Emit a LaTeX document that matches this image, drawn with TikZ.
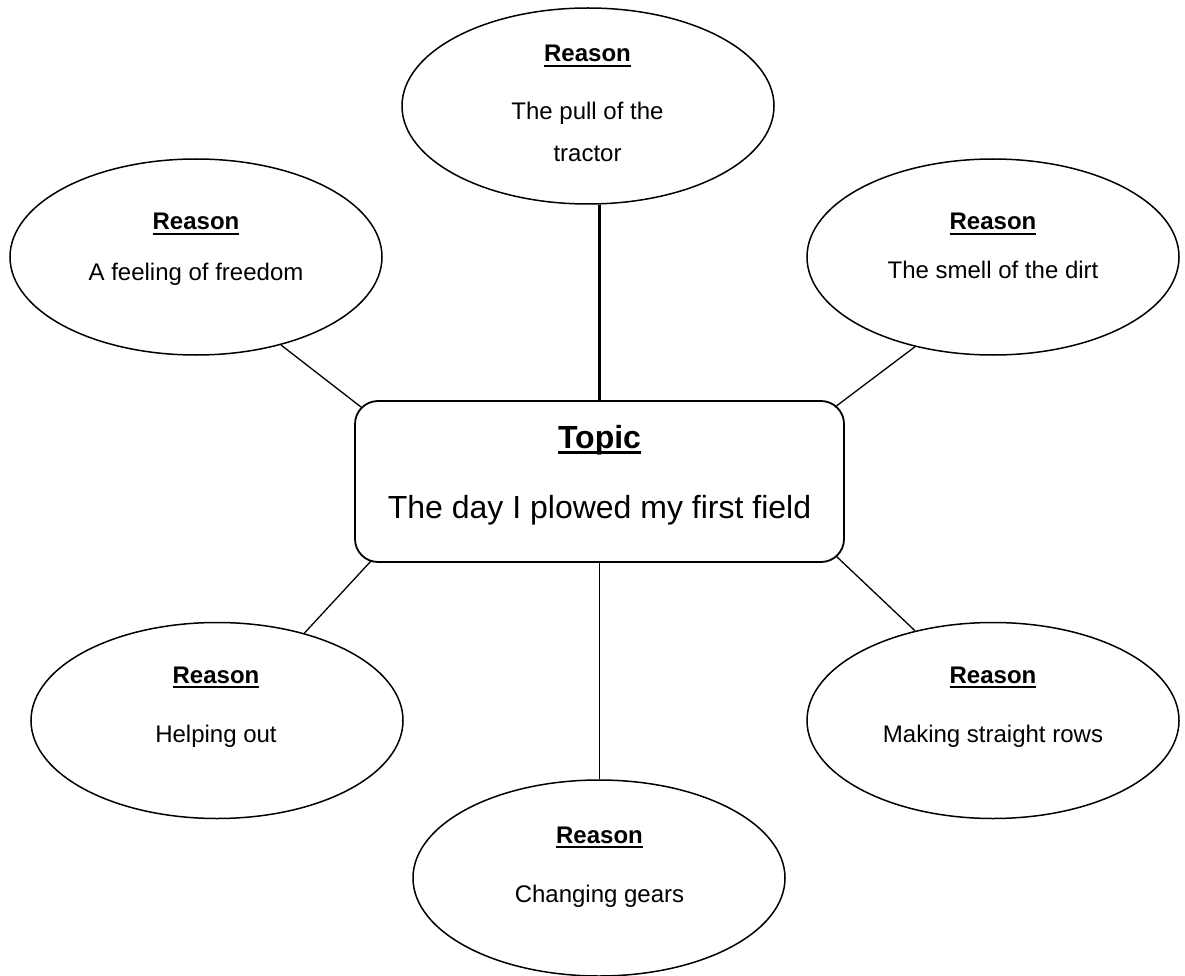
\documentclass[tikz,border=0pt]{standalone}
\usepackage{fontspec}
\setmainfont{Liberation Sans}
\usetikzlibrary{shapes.geometric,calc}
\newcommand\ulw[3]{\setbox0\hbox{#1}\rlap{\rule[-#2]{\wd0}{#3}}\box0}
\tikzset{
  reason/.style={ellipse, draw, line width=1.5pt, inner sep=0pt, minimum width=372pt, minimum height=196pt},
  small/.style={anchor=base, inner sep=0pt, font=\fontsize{24}{28}\selectfont},
  big/.style={anchor=base, inner sep=0pt, font=\fontsize{32}{38}\selectfont},
  conn/.style={line width=1.3pt},
  topic/.style={draw, rounded corners=23pt, line width=1.8pt, minimum width=489pt, minimum height=161pt, inner sep=0pt}
}
\begin{document}
\begin{tikzpicture}[x=1pt,y=-1pt]
\useasboundingbox (0,0) rectangle (1185,976);
% central box
\node[topic] (box) at (599.5,481.5) {};
\node[big] (boxh) at (599.5,448) {\bfseries\ulw{Topic}{6pt}{3.5pt}};
\node[big] (boxt) at (599.5,518) {The day I plowed my first field};
% ellipses
\node[reason] (T) at (588,106) {};
\node[reason] (L) at (196,257) {};
\node[reason] (R) at (993,257) {};
\node[reason] (BL) at (217,720.5) {};
\node[reason] (BR) at (993,720.5) {};
\node[reason] (B) at (599,878) {};
% texts
\node[small] (Th) at (587.5,62) {\bfseries\ulw{Reason}{5pt}{2pt}};
\node[small] (Tt1) at (587.5,120) {The pull of the};
\node[small] (Tt2) at (587.5,162) {tractor};
\node[small] (Lh) at (196,230) {\bfseries\ulw{Reason}{5pt}{2pt}};
\node[small] (Lt) at (196,280) {A feeling of freedom};
\node[small] (Rh) at (993,230) {\bfseries\ulw{Reason}{5pt}{2pt}};
\node[small] (Rt) at (993,278) {The smell of the dirt};
\node[small] (BLh) at (216,683) {\bfseries\ulw{Reason}{5pt}{2pt}};
\node[small] (BLt) at (216,742) {Helping out};
\node[small] (BRh) at (993,683) {\bfseries\ulw{Reason}{5pt}{2pt}};
\node[small] (BRt) at (993,742) {Making straight rows};
\node[small] (Bh) at (599.5,843) {\bfseries\ulw{Reason}{5pt}{2pt}};
\node[small] (Bt) at (599.5,902) {Changing gears};
% connectors
\draw[line width=2.5pt] (box.north) -- (box.north |- T.south);
\draw[conn] ($(box.north west)+(7,7)$) -- (L.-46);
\draw[conn] ($(box.north east)+(-10,7)$) -- (R.229);
\draw[conn] ($(box.south west)+(17,-2)$) -- (BL.45);
\draw[conn] ($(box.south east)+(-9,-7)$) -- (BR.131);
\draw[conn] (box.south) -- (box.south |- B.north);
\end{tikzpicture}
\end{document}
